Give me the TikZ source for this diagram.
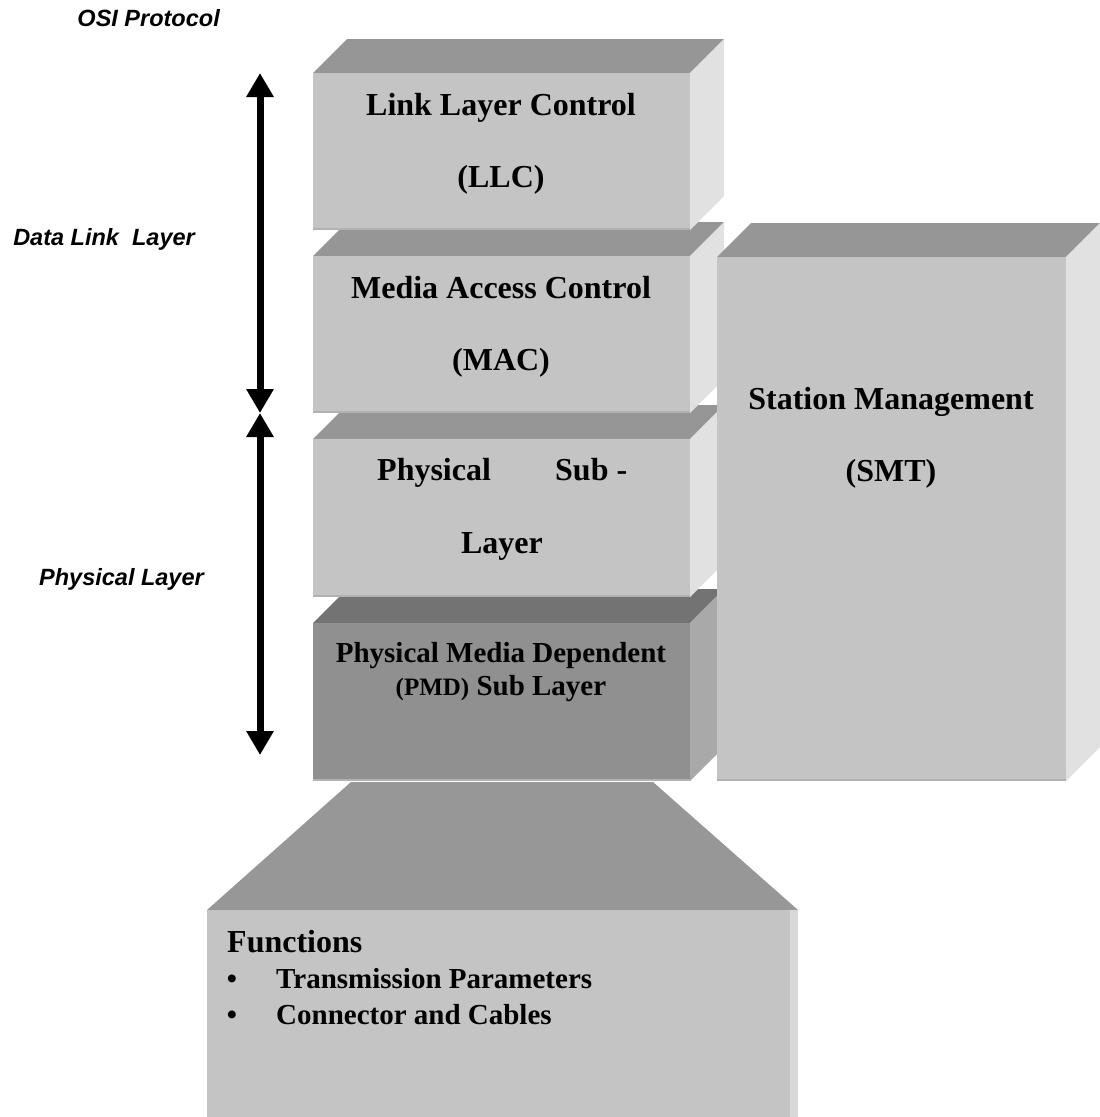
\documentclass[tikz,border=0pt]{standalone}
\usepackage{fontspec}
\setmainfont{Liberation Serif}
\newfontfamily\sidefont{Liberation Sans}
\usetikzlibrary{arrows.meta}

\definecolor{faceFront}{HTML}{C4C4C4}
\definecolor{faceTop}{HTML}{969696}
\definecolor{faceSide}{HTML}{E1E1E1}
\definecolor{faceEdge}{HTML}{B2B2B2}
\definecolor{pmdFront}{HTML}{909090}
\definecolor{pmdTop}{HTML}{737373}
\definecolor{pmdSide}{HTML}{A9A9A9}
\definecolor{funnel}{HTML}{979797}

% a 3-D slab: front face (x1,y1)-(x2,y2), depth d, colours front/top/side
\newcommand\slab[8]{%
  \fill[#7] (#1,#2) -- ++(#5,-#5) -- (#3+#5,#2-#5) -- (#3,#2) -- cycle;
  \fill[#8] (#3,#2) -- ++(#5,-#5) -- (#3+#5,#4-#5) -- (#3,#4) -- cycle;
  \fill[#6] (#1,#2) rectangle (#3,#4);
  \draw[faceEdge, line width=2pt] (#1,#4-1) -- (#3,#4-1);
}

\begin{document}
\begin{tikzpicture}[x=1pt, y=-1pt,
  boxtext/.style={font=\fontsize{32}{38}\selectfont\bfseries, inner sep=0pt},
  pmdtext/.style={font=\fontsize{29}{34}\selectfont\bfseries, inner sep=0pt},
  listtext/.style={font=\fontsize{29}{34}\selectfont\bfseries, inner sep=0pt},
  sidelabel/.style={font=\sidefont\bfseries\itshape\fontsize{23.5}{28}\selectfont, inner sep=0pt},
  layerarrow/.style={line width=7pt,
    arrows={Triangle[length=24pt,width=26pt]-Triangle[length=24pt,width=26pt]}}
]
\useasboundingbox (0,0) rectangle (1100,1117);

% funnel from the PMD sub layer down to the function list
\fill[funnel] (351,782) -- (653,782) -- (798,910) -- (207,910) -- cycle;
\fill[faceFront] (207,910) rectangle (798,1117);
\fill[faceSide!70!faceFront] (790,910) rectangle (798,1117);

% protocol stack, bottom to top
\slab{313}{623}{690}{781}{34}{pmdFront}{pmdTop}{pmdSide}
\slab{313}{439}{690}{597}{34}{faceFront}{faceTop}{faceSide}
\slab{313}{256}{690}{413}{34}{faceFront}{faceTop}{faceSide}
\slab{313}{73}{690}{230}{34}{faceFront}{faceTop}{faceSide}
% station management
\slab{717}{257}{1066}{781}{34}{faceFront}{faceTop}{faceSide}

% layer texts
\node[boxtext, anchor=base] (llc1) at (501,115) {Link Layer Control};
\node[boxtext, anchor=base] (llc2) at (501,187) {(LLC)};
\node[boxtext, anchor=base] (mac1) at (501,298) {Media Access Control};
\node[boxtext, anchor=base] (mac2) at (501,370) {(MAC)};
\node[boxtext, anchor=base west] (phy1a) at (377,480) {Physical};
\node[boxtext, anchor=base west] (phy1b) at (555,480) {Sub -};
\node[boxtext, anchor=base] (phy2) at (502,553) {Layer};
\node[pmdtext, anchor=base] (pmd1) at (501,662) {Physical Media Dependent};
\node[pmdtext, anchor=base] (pmd2) at (501,695) {{\fontsize{25}{30}\selectfont(PMD)} Sub Layer};
\node[boxtext, anchor=base] (smt1) at (891,409) {Station Management};
\node[boxtext, anchor=base] (smt2) at (891,481) {(SMT)};

% function list
\node[listtext, anchor=base west, font=\fontsize{32}{37}\selectfont\bfseries] (fn) at (227,952) {Functions};
\node[listtext, anchor=base] (b1) at (232,988) {\textbullet};
\node[listtext, anchor=base west] (fn1) at (276,988) {Transmission Parameters};
\node[listtext, anchor=base] (b2) at (232,1024) {\textbullet};
\node[listtext, anchor=base west] (fn2) at (276,1024) {Connector and Cables};

% side labels
\node[sidelabel, anchor=base east] (osi) at (220,26) {OSI Protocol};
\node[sidelabel, anchor=base east] (dll) at (195,245) {Data Link~~Layer};
\node[sidelabel, anchor=base east] (phl) at (204,585) {Physical Layer};

% layer extent arrows
\coordinate (dlTop) at (260,73);
\coordinate (dlBot) at (260,413);
\coordinate (phBot) at (260,755);
\draw[layerarrow] (dlBot) -- (dlTop);
\draw[layerarrow] (dlBot) -- (phBot);
\end{tikzpicture}
\end{document}
